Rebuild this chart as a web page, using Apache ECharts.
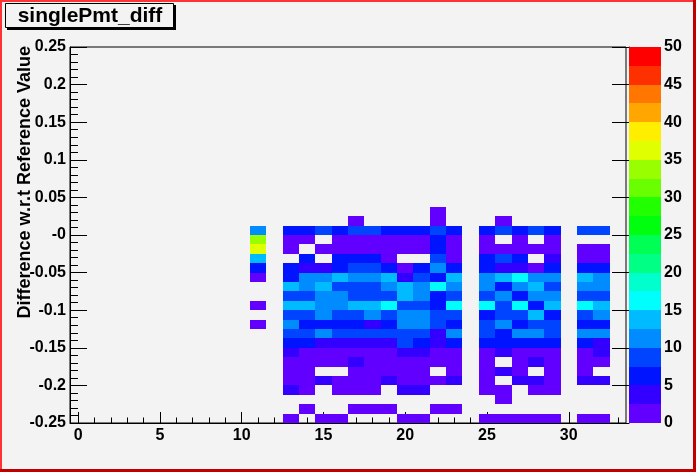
<!DOCTYPE html>
<html><head><meta charset="utf-8">
<script src="https://cdn.jsdelivr.net/npm/echarts@6/dist/echarts.min.js"></script>
<style>html,body{margin:0;padding:0;background:#f3f3f3}#c{width:696px;height:472px}</style>
</head><body><div id="c"></div>
<script>
// ---- data ----
const histTitle = 'singlePmt_diff';
const yTitle = 'Difference w.r.t Reference Value';
const xRange = [-0.5, 33.5];
const yRange = [-0.25, 0.25];
const yBinWidth = 0.0125;
const xMajorTicks = [0, 5, 10, 15, 20, 25, 30];
const xMinorTicks = [0,1,2,3,4,5,6,7,8,9,10,11,12,13,14,15,16,17,18,19,20,21,22,23,24,25,26,27,28,29,30,31,32,33];
const yTickValues = [-0.25, -0.2, -0.15, -0.1, -0.05, 0, 0.05, 0.1, 0.15, 0.2, 0.25];
const yTickLabels = ['-0.25', '-0.2', '-0.15', '-0.1', '-0.05', '-0', '0.05', '0.1', '0.15', '0.2', '0.25'];
const zLevels = [0, 2.5, 5, 7.5, 10, 12.5, 15, 17.5, 20, 22.5, 25, 27.5, 30, 32.5, 35, 37.5, 40, 42.5, 45, 47.5, 50];
const zTickLabels = [0, 5, 10, 15, 20, 25, 30, 35, 40, 45, 50];
// bin centres along x (columns of the count rows)
const xBinCenters = [11,12,13,14,15,16,17,18,19,20,21,22,23,24,25,26,27,28,29,30,31,32];
// lower y edge of each count row (top row first)
const yRowLow = [0.025, 0.0125, 0, -0.0125, -0.025, -0.0375, -0.05, -0.0625, -0.075, -0.0875, -0.1, -0.1125,
  -0.125, -0.1375, -0.15, -0.1625, -0.175, -0.1875, -0.2, -0.2125, -0.225, -0.2375, -0.25];
// bin contents, one row per y bin (top first), columns follow xBinCenters
const counts = [
  [0,0,0,0,0,0,0,0,0,0,0,1,0,0,0,0,0,0,0,0,0,0],
  [0,0,0,0,0,0,1,0,0,0,0,1,0,0,0,1,0,0,0,0,0,0],
  [11,0,6,6,9,6,9,9,6,6,6,9,6,0,6,9,6,9,6,0,9,9],
  [34,0,1,1,0,1,1,1,1,1,1,6,1,0,1,0,1,0,1,0,0,0],
  [36,0,1,0,1,1,1,1,1,1,1,6,1,0,1,1,1,1,1,0,1,1],
  [14,0,0,6,0,6,6,6,1,0,0,9,1,0,6,9,6,0,4,0,1,1],
  [6,0,6,4,4,6,9,9,6,1,6,11,6,0,6,4,4,1,6,0,6,6],
  [1,0,6,11,11,14,11,11,14,4,9,6,14,0,11,14,16,11,11,0,14,11],
  [0,0,14,11,14,9,9,9,11,14,11,16,11,0,11,6,11,14,9,0,11,11],
  [0,0,9,9,11,11,9,9,9,14,11,6,9,0,9,11,6,11,11,0,9,9],
  [1,0,14,14,11,11,14,14,16,9,9,6,16,0,16,9,16,6,14,0,16,14],
  [0,0,9,9,11,9,9,11,9,11,11,9,9,0,6,9,9,14,6,0,9,11],
  [1,0,11,6,6,6,6,4,6,11,11,9,6,0,9,11,6,9,9,0,6,6],
  [0,0,9,9,11,9,9,9,9,9,9,4,11,0,9,6,11,11,9,0,11,11],
  [0,0,6,6,4,4,4,4,4,9,6,4,6,0,6,6,6,6,6,0,6,4],
  [0,0,4,1,1,1,1,1,1,4,4,1,1,0,1,4,1,1,1,0,1,4],
  [0,0,1,1,1,1,4,1,1,1,1,1,1,0,1,0,1,4,1,0,1,1],
  [0,0,1,1,0,0,1,1,1,1,1,0,1,0,1,4,1,0,1,0,1,0],
  [0,0,1,1,4,1,1,1,4,1,1,1,4,0,1,0,4,4,1,0,4,4],
  [0,0,4,1,0,1,1,1,0,4,4,0,0,0,1,1,0,1,1,0,0,0],
  [0,0,0,0,0,0,0,0,0,0,0,0,0,0,0,1,0,0,0,0,0,0],
  [0,0,0,1,0,0,1,1,1,0,0,1,1,0,0,0,0,0,0,0,0,0],
  [0,0,1,0,1,1,0,0,0,1,1,0,0,0,1,1,1,1,1,0,1,1]
];

// ---- style ----
const palette = ['#6200ff','#3300ff','#0014ff','#0044ff','#008bff','#00bbff','#00fffc','#00ffcc',
  '#00ff85','#00ff55','#00ff0e','#22ff00','#69ff00','#99ff00','#e0ff00','#ffee00','#ffa700','#ff7700','#ff3000','#ff0000'];
const FONT = 'Liberation Sans, Arial, Helvetica, sans-serif';
const lab = {color:'#000', fontWeight:'bold', fontSize:16, fontFamily:FONT};

function colorFor(v) {
  let k = 0;
  for (let i = 0; i < zLevels.length - 1; i++) if (v >= zLevels[i]) k = i;
  return palette[k];
}

const cells = [];
counts.forEach((row, i) => row.forEach((v, j) => {
  if (v > 0) cells.push([xBinCenters[j], yRowLow[i], v]);
}));
const barData = [];
for (let i = 0; i < zLevels.length - 1; i++) barData.push([0.5, zLevels[i], zLevels[i+1]]);

const chart = echarts.init(document.getElementById('c'), null, {renderer:'canvas'});
chart.setOption({
  backgroundColor:'#f3f3f3',
  animation:false,
  grid:[
    {left:70, top:47, width:556, height:376, show:true, borderColor:'#000', borderWidth:1, backgroundColor:'transparent'},
    {left:629, top:47, width:32, height:376}
  ],
  xAxis:[
    {gridIndex:0, type:'value', min:xRange[0], max:xRange[1],
     axisLine:{show:true, onZero:false, lineStyle:{color:'#000', width:1}},
     axisTick:{show:true, inside:true, length:11, lineStyle:{color:'#000'}, customValues:xMajorTicks},
     axisLabel:Object.assign({margin:5, customValues:xMajorTicks, formatter:v=>String(v)}, lab),
     splitLine:{show:false}},
    {gridIndex:0, type:'value', min:xRange[0], max:xRange[1], position:'bottom',
     axisLine:{show:false, onZero:false},
     axisTick:{show:true, inside:true, length:5.5, lineStyle:{color:'#000'}, customValues:xMinorTicks},
     axisLabel:{show:false}, splitLine:{show:false}},
    {gridIndex:1, type:'value', min:0, max:1, show:false}
  ],
  yAxis:[
    {gridIndex:0, type:'value', min:yRange[0], max:yRange[1], interval:0.05,
     axisLine:{show:true, onZero:false, lineStyle:{color:'#000', width:1}},
     axisTick:{show:true, inside:true, length:17, lineStyle:{color:'#000'}},
     minorTick:{show:true, splitNumber:5, length:8, lineStyle:{color:'#000'}},
     axisLabel:Object.assign({margin:4, formatter:v=>{
        let best = 0;
        yTickValues.forEach((t, i) => { if (Math.abs(t - v) < Math.abs(yTickValues[best] - v)) best = i; });
        return yTickLabels[best];
     }}, lab),
     splitLine:{show:false}},
    {gridIndex:1, type:'value', min:zLevels[0], max:zLevels[zLevels.length-1], interval:5, position:'right',
     axisLine:{show:true, lineStyle:{color:'#000', width:1}},
     axisTick:{show:true, inside:true, length:17, lineStyle:{color:'#000'}},
     axisLabel:Object.assign({margin:3, formatter:v=>String(zTickLabels[Math.round(v/5)])}, lab),
     splitLine:{show:false}}
  ],
  series:[
    {type:'custom', xAxisIndex:0, yAxisIndex:0, data:cells, encode:{x:0, y:1},
     renderItem:(params, api) => {
       const x = api.value(0), y = api.value(1), v = api.value(2);
       const p0 = api.coord([x - 0.5, y + yBinWidth]);
       const p1 = api.coord([x + 0.5, y]);
       const x0 = Math.round(p0[0]), y0 = Math.round(p0[1]);
       const x1 = Math.round(p1[0]), y1 = Math.round(p1[1]);
       return {type:'rect', shape:{x:x0, y:y0, width:x1-x0, height:y1-y0}, style:{fill:colorFor(v)}};
     }},
    {type:'custom', xAxisIndex:2, yAxisIndex:1, data:barData, encode:{x:0, y:1},
     renderItem:(params, api) => {
       const lo = api.value(1), hi = api.value(2);
       const p0 = api.coord([0, hi]);
       const p1 = api.coord([1, lo]);
       const x0 = Math.round(p0[0]), y0 = Math.round(p0[1]);
       const x1 = Math.round(p1[0]), y1 = Math.round(p1[1]);
       return {type:'rect', shape:{x:x0, y:y0, width:x1-x0, height:y1-y0}, style:{fill:colorFor(lo)}};
     }}
  ],
  graphic:[
    {type:'rect', shape:{x:0, y:0, width:696, height:2}, style:{fill:'#ff3333'}, z:100},
    {type:'rect', shape:{x:0, y:0, width:2, height:472}, style:{fill:'#ff3333'}, z:100},
    {type:'rect', shape:{x:0, y:469, width:696, height:3}, style:{fill:'#bf0000'}, z:100},
    {type:'rect', shape:{x:693, y:0, width:3, height:472}, style:{fill:'#bf0000'}, z:100},
    {type:'rect', shape:{x:7, y:5, width:169, height:25}, style:{fill:'#000'}, z:100},
    {type:'rect', shape:{x:5.5, y:3.5, width:168, height:24}, style:{fill:'#f3f3f3', stroke:'#000', lineWidth:1}, z:101},
    {type:'text', x:90, y:16, z:102, style:{text:histTitle, textAlign:'center', textVerticalAlign:'middle',
      font:'bold 21px ' + FONT, fill:'#000'}},
    {type:'text', x:25, y:46, rotation:Math.PI/2, z:102, style:{text:yTitle, textAlign:'right', textVerticalAlign:'middle',
      font:'bold 18px ' + FONT, fill:'#000'}}
  ]
});
</script></body></html>
